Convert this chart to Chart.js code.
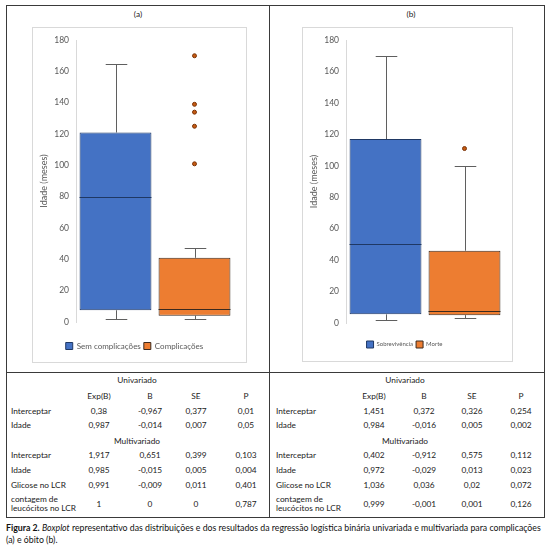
<!DOCTYPE html>
<html>
<head>
<meta charset="utf-8">
<script src="https://cdn.jsdelivr.net/npm/chart.js@4"></script>
<style>
  body { margin: 0; background: #fff; font-family: Lato, sans-serif; }
  #page { position: relative; width: 550px; height: 547px; overflow: hidden; }
  .frame { position: absolute; border: 1px solid #3a3a3a; }
  .vline { position: absolute; width: 1px; background: #3a3a3a; }
  .hline { position: absolute; height: 1px; background: #3a3a3a; }
  .box { position: absolute; border: 1px solid #d9d9d9; }
  .box canvas { display: block; }
  .t { position: absolute; white-space: nowrap; font-size: 8.3px; color: #222; line-height: 9px; }
  .c { transform: translate(-50%, -50%); text-align: center; }
  .l { transform: translate(0, -50%); }
  .caption { position: absolute; left: 6px; font-size: 8.75px; color: #111; white-space: nowrap; }
</style>
</head>
<body>
<div id="page">
  <div class="frame" style="left:6px;top:5px;width:537px;height:511px;"></div>
  <div class="vline" style="left:269px;top:5px;height:513px;"></div>
  <div class="hline" style="left:6px;top:372px;width:539px;"></div>
  <div class="t c" style="left:138px;top:14px;">(a)</div>
  <div class="t c" style="left:411px;top:14px;">(b)</div>
  <div class="box" style="left:32px;top:27px;width:213px;height:334px;"><canvas id="chartA" width="213" height="334"></canvas></div>
  <div class="box" style="left:302px;top:27px;width:209px;height:333px;"><canvas id="chartB" width="209" height="333"></canvas></div>
  <div id="tables"></div>
  <div class="caption" style="top:522px;"><b>Figura 2.</b> <i>Boxplot</i> representativo das distribuições e dos resultados da regressão logística binária univariada e multivariada para complicações</div>
  <div class="caption" style="top:534px;">(a) e óbito (b).</div>
</div>
<script>
// (a) complicações
const groupsA = ['Sem complicações', 'Complicações'];
const minA = [2, 2];
const q1A = [7.5, 4];
const medA = [80, 8];
const q3A = [121, 41];
const maxA = [165, 47];
const outliersA = [[], [101, 125, 134, 139, 170]];

// (b) óbito
const groupsB = ['Sobrevivência', 'Morte'];
const minB = [2, 3];
const q1B = [5.5, 5];
const medB = [50, 7.5];
const q3B = [117, 46];
const maxB = [170, 100];
const outliersB = [[], [111]];

const yTicks = [0, 20, 40, 60, 80, 100, 120, 140, 160, 180];

// tables
const tableCols = ['Exp(B)', 'B', 'SE', 'P'];
const uniLabels = ['Interceptar', 'Idade'];
const multiLabels = ['Interceptar', 'Idade', 'Glicose no LCR', 'contagem de<br>leucócitos no LCR'];
const uniA = [['0,38', '-0,967', '0,377', '0,01'], ['0,987', '-0,014', '0,007', '0,05']];
const multiA = [['1,917', '0,651', '0,399', '0,103'], ['0,985', '-0,015', '0,005', '0,004'],
                ['0,991', '-0,009', '0,011', '0,401'], ['1', '0', '0', '0,787']];
const uniB = [['1,451', '0,372', '0,326', '0,254'], ['0,984', '-0,016', '0,005', '0,002']];
const multiB = [['0,402', '-0,912', '0,575', '0,112'], ['0,972', '-0,029', '0,013', '0,023'],
                ['1,036', '0,036', '0,02', '0,072'], ['0,999', '-0,001', '0,001', '0,126']];

const boxColors = ['#4472C4', '#ED7D31'];
const boxBorders = ['#1F3864', '#3b2a1e'];

// whiskers + medians, drawn through the chart scales
const boxPlugin = {
  id: 'boxWhiskers',
  beforeDatasetsDraw(chart, args, o) {
    const ctx = chart.ctx, y = chart.scales.y;
    ctx.save();
    ctx.strokeStyle = '#5f5f5f';
    ctx.lineWidth = 1;
    for (let i = 0; i < o.min.length; i++) {
      const bar = chart.getDatasetMeta(i).data[i];
      const x = Math.round(bar.x) + 0.5, cap = bar.width * 0.15;
      const yMax = Math.round(y.getPixelForValue(o.max[i])) + 0.5;
      const yMin = Math.round(y.getPixelForValue(o.min[i])) + 0.5;
      ctx.beginPath();
      ctx.moveTo(x, yMax); ctx.lineTo(x, y.getPixelForValue(o.q3[i]));
      ctx.moveTo(x, yMin); ctx.lineTo(x, y.getPixelForValue(o.q1[i]));
      ctx.moveTo(x - cap, yMax); ctx.lineTo(x + cap, yMax);
      ctx.moveTo(x - cap, yMin); ctx.lineTo(x + cap, yMin);
      ctx.stroke();
    }
    ctx.restore();
  },
  afterDatasetsDraw(chart, args, o) {
    const ctx = chart.ctx, y = chart.scales.y;
    ctx.save();
    ctx.lineWidth = 1;
    for (let i = 0; i < o.med.length; i++) {
      const bar = chart.getDatasetMeta(i).data[i];
      const ym = Math.round(y.getPixelForValue(o.med[i])) + 0.5;
      ctx.strokeStyle = boxBorders[i];
      ctx.beginPath();
      ctx.moveTo(bar.x - bar.width / 2, ym);
      ctx.lineTo(bar.x + bar.width / 2, ym);
      ctx.stroke();
    }
    ctx.restore();
  }
};

function makeChart(id, groups, mins, q1s, meds, q3s, maxs, outs, lay) {
  const datasets = groups.map((g, i) => ({
    type: 'bar',
    label: g,
    data: groups.map((_, j) => j === i ? [q1s[i], q3s[i]] : null),
    backgroundColor: boxColors[i],
    borderColor: boxBorders[i],
    borderWidth: 1,
    borderSkipped: false,
    grouped: false,
    barPercentage: 0.91,
    categoryPercentage: 1
  }));
  const pts = [];
  outs.forEach((list, i) => list.forEach(v => pts.push({ x: groups[i], y: v })));
  datasets.push({
    type: 'line',
    label: 'outliers',
    data: pts,
    showLine: false,
    pointRadius: 2,
    pointBackgroundColor: '#C55A11',
    pointBorderColor: '#7a3308',
    pointBorderWidth: 1
  });

  return new Chart(document.getElementById(id), {
    type: 'bar',
    data: { labels: groups, datasets },
    plugins: [boxPlugin],
    options: {
      responsive: false,
      animation: false,
      layout: { padding: { top: 11, right: lay.right, bottom: lay.bottom, left: 2 } },
      plugins: {
        tooltip: { enabled: false },
        boxWhiskers: { min: mins, q1: q1s, med: meds, q3: q3s, max: maxs },
        legend: {
          position: 'bottom',
          labels: {
            filter: item => item.text !== 'outliers',
            boxWidth: 7,
            boxHeight: 7,
            padding: 3,
            color: '#595959',
            font: { family: 'Lato', size: lay.legendSize }
          }
        }
      },
      scales: {
        x: {
          display: true,
          grid: { display: false },
          border: { display: false },
          ticks: { display: false },
          afterFit: s => { s.height = lay.xGap; }
        },
        y: {
          min: 0,
          max: 180,
          afterBuildTicks: s => { s.ticks = yTicks.map(v => ({ value: v })); },
          afterFit: s => { s.width = 41; },
          grid: { display: false, drawTicks: false },
          border: { display: true, color: '#d9d9d9' },
          ticks: { color: '#595959', padding: 7, font: { family: 'Lato', size: 8.5 } },
          title: { display: true, text: 'Idade (meses)', color: '#595959', font: { family: 'Lato', size: 9 } }
        }
      }
    }
  });
}

makeChart('chartA', groupsA, minA, q1A, medA, q3A, maxA, outliersA,
  { right: 12, bottom: 2, xGap: 17, legendSize: 8 });
makeChart('chartB', groupsB, minB, q1B, medB, q3B, maxB, outliersB,
  { right: 8, bottom: 3, xGap: 15, legendSize: 6 });

// regression tables
function addText(html, x, y, cls) {
  const d = document.createElement('div');
  d.className = 't ' + cls;
  d.style.left = x + 'px';
  d.style.top = y + 'px';
  d.innerHTML = html;
  document.getElementById('tables').appendChild(d);
}

function buildTable(labelX, colX, midX, uni, multi) {
  const uniY = [411, 425];
  const multiY = [455, 470, 485, 504];
  addText('Univariado', midX, 380, 'c');
  tableCols.forEach((c, j) => addText(c, colX[j], 396, 'c'));
  uniLabels.forEach((lab, i) => {
    addText(lab, labelX, uniY[i], 'l');
    uni[i].forEach((v, j) => addText(v, colX[j], uniY[i], 'c'));
  });
  addText('Multivariado', midX, 441, 'c');
  multiLabels.forEach((lab, i) => {
    addText(lab, labelX, multiY[i], 'l');
    multi[i].forEach((v, j) => addText(v, colX[j], multiY[i], 'c'));
  });
}

buildTable(11, [99, 150, 196, 246], 137, uniA, multiA);
buildTable(276, [374, 424, 472, 521], 405, uniB, multiB);
</script>
</body>
</html>
